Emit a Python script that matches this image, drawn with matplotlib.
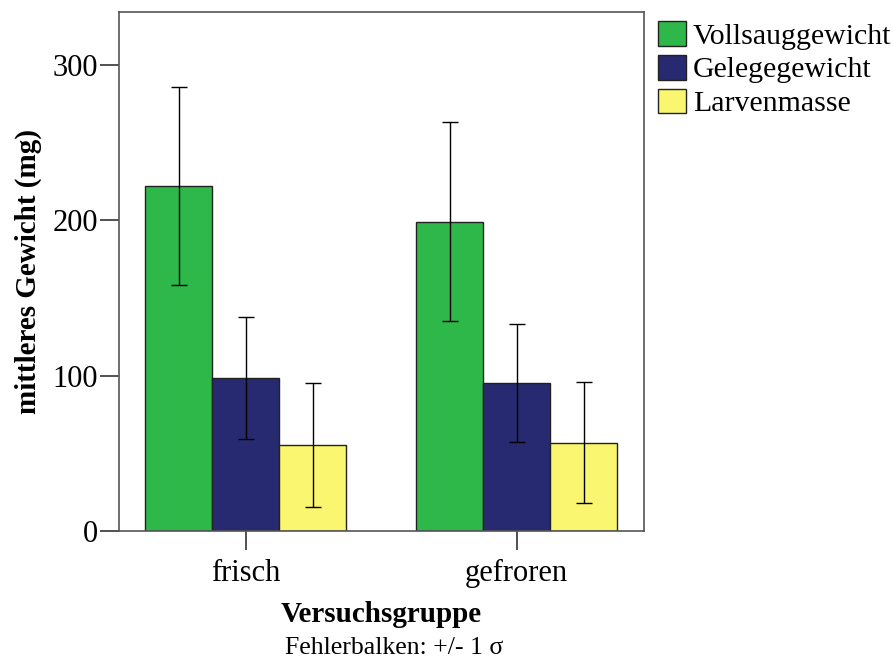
import numpy as np
import matplotlib.pyplot as plt

plt.rcParams['font.family'] = ['Liberation Serif', 'DejaVu Serif']

groups = ["frisch", "gefroren"]
series = ["Vollsauggewicht", "Gelegegewicht", "Larvenmasse"]
means = {
    "Vollsauggewicht": [222, 199],
    "Gelegegewicht": [98.5, 95.3],
    "Larvenmasse": [55.4, 56.7],
}
sds = {
    "Vollsauggewicht": [63.5, 64.0],
    "Gelegegewicht": [39.0, 38.0],
    "Larvenmasse": [39.7, 39.0],
}
colors = ["#2eb84a", "#272a70", "#faf66f"]

fig = plt.figure(figsize=(8.93, 6.61), dpi=100)
ax = fig.add_axes([0.1333, 0.1967, 0.5879, 0.7851])

x = np.arange(len(groups))
w = 0.247
for i, (name, col) in enumerate(zip(series, colors)):
    pos = x + (i - 1) * w
    ax.bar(pos, means[name], width=w, color=col, edgecolor="#222222",
           linewidth=1.0, label=name, zorder=2)
    ax.errorbar(pos, means[name], yerr=sds[name], fmt="none", ecolor="black",
                elinewidth=1.0, capsize=6, capthick=1.0, zorder=3)

ax.set_xlim(-0.467, 1.47)
ax.set_ylim(0, 334)
ax.set_yticks([0, 100, 200, 300])
ax.set_xticks(x)
ax.set_xticklabels(groups)
for s in ax.spines.values():
    s.set_color("#555555")
    s.set_linewidth(1.2)
ax.tick_params(axis="both", direction="out", length=14, width=1.2,
               color="#333333", labelsize=22)
ax.tick_params(axis="y", pad=1)
ax.tick_params(axis="x", pad=6)

ax.set_ylabel("mittleres Gewicht (mg)", fontsize=21, fontweight="bold")
ax.yaxis.set_label_coords(-0.147, 0.5)
ax.set_xlabel("Versuchsgruppe", fontsize=21, fontweight="bold")
ax.xaxis.set_label_coords(0.5, -0.135)
fig.text(0.441, 0.0197, "Fehlerbalken: +/- 1 σ", ha="center", va="center",
         fontsize=18.5)

leg = ax.legend(loc="upper left", bbox_to_anchor=(658 / 893, 1 - 21 / 661),
                bbox_transform=fig.transFigure, frameon=False,
                fontsize=21.5, handlelength=0.93, handleheight=0.9,
                handletextpad=0.23, labelspacing=0.17, borderaxespad=0,
                borderpad=0)

fig.savefig("out.png", dpi=100)
